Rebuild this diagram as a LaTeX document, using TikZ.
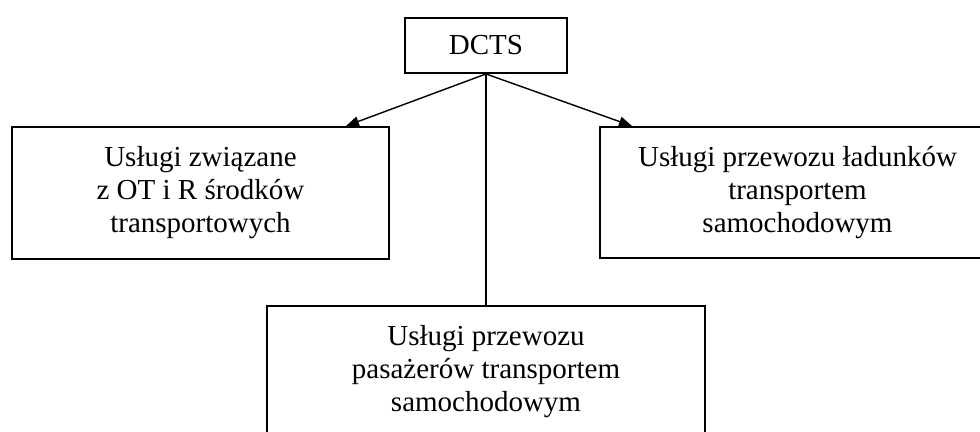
\documentclass[tikz,border=0pt]{standalone}
\usepackage{fontspec}
\setmainfont{Liberation Serif}
\usetikzlibrary{arrows.meta}

\begin{document}
\begin{tikzpicture}[
    box/.style={rectangle,draw,line width=1.1pt,align=center,inner sep=0pt,
      font=\fontsize{16.5}{18.8}\selectfont},
    arrow/.style={-{Triangle[length=0.26cm,width=0.2cm]},line width=0.8pt}
    ]

    \clip (0,0) rectangle (19.6,8.64);

    \node (dcts) [box,minimum width=3.24cm,minimum height=1.1cm] at (9.72,7.73) {DCTS};

    \node (uslugiOT) [box,minimum width=7.54cm,minimum height=2.64cm] at (4.01,4.78)
      {Usługi związane\\z OT i R środków\\transportowych};
    \node (ladunki) [box,minimum width=7.9cm,minimum height=2.62cm] at (15.95,4.79)
      {Usługi przewozu ładunków\\transportem\\samochodowym};
    \node (pasazer) [box,minimum width=8.76cm,minimum height=2.64cm] at (9.72,1.2)
      {Usługi przewozu\\pasażerów transportem\\samochodowym};

    \draw[arrow] (dcts.south) -- ([xshift=-0.88cm]uslugiOT.north east);
    \draw[arrow] (dcts.south) -- ([xshift=0.66cm]ladunki.north west);
    \draw[line width=0.8pt] (dcts.south) -- (pasazer.north);

  \end{tikzpicture}
\end{document}
